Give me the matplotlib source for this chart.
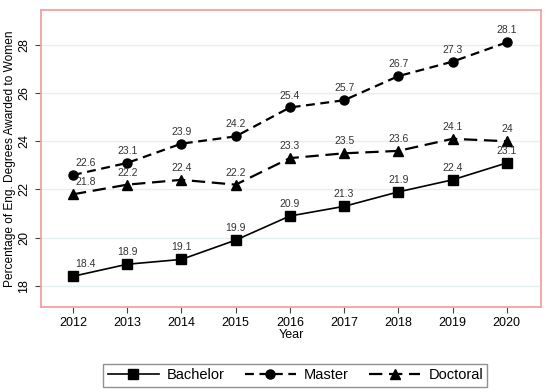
import matplotlib.pyplot as plt

years = [2012, 2013, 2014, 2015, 2016, 2017, 2018, 2019, 2020]
bachelor = [18.4, 18.9, 19.1, 19.9, 20.9, 21.3, 21.9, 22.4, 23.1]
master = [22.6, 23.1, 23.9, 24.2, 25.4, 25.7, 26.7, 27.3, 28.1]
doctoral = [21.8, 22.2, 22.4, 22.2, 23.3, 23.5, 23.6, 24.1, 24.0]
yticks = [18, 20, 22, 24, 26, 28]

plt.rcParams['font.family'] = ['Liberation Sans', 'DejaVu Sans']

fig = plt.figure(figsize=(5.5, 3.92), dpi=100)
ax = fig.add_axes([0.0745, 0.217, 0.909, 0.758])

ax.plot(years, bachelor, color='black', lw=1.2, ls='-', marker='s', ms=7, label='Bachelor')
ax.plot(years, master, color='black', lw=1.6, ls=(0, (4, 2.5)), marker='o', ms=6.5, label='Master')
ax.plot(years, doctoral, color='black', lw=1.6, ls=(0, (6, 3)), marker='^', ms=7, label='Doctoral')

for series in (bachelor, master, doctoral):
    for i, (x, y) in enumerate(zip(years, series)):
        dx = 9 if i == 0 else 0  # first labels sit a bit to the right
        ax.annotate(f'{y:g}', (x, y), xytext=(dx, 5), textcoords='offset points',
                    ha='center', va='bottom', fontsize=7.5, color='#333333')

ax.set_xlim(2011.41, 2020.63)
ax.set_ylim(17.13, 29.45)
ax.set_xticks(years)
ax.set_yticks(yticks)
ax.set_yticklabels([str(t) for t in yticks], rotation=90, va='center')
ax.tick_params(labelsize=9, length=4, color='#444444', labelcolor='black')
ax.grid(axis='y', color='#e4eef0', lw=1)
ax.set_axisbelow(True)
for sp in ax.spines.values():
    sp.set_color('#f4a0a0')
    sp.set_linewidth(1.3)

ax.set_xlabel('Year', fontsize=9, labelpad=0)
ax.set_ylabel('Percentage of Eng. Degrees Awarded to Women', fontsize=8.6, labelpad=2)

handles, labels = ax.get_legend_handles_labels()
leg = fig.legend(handles, labels, loc='center', bbox_to_anchor=(0.537, 0.043), ncol=3,
                 fontsize=10.5, frameon=True, fancybox=False, handlelength=3.5,
                 columnspacing=1.4, borderpad=0.3, handletextpad=0.55)
leg.get_frame().set_edgecolor('#777777')
leg.get_frame().set_linewidth(1)

fig.savefig('out.png', dpi=100)
